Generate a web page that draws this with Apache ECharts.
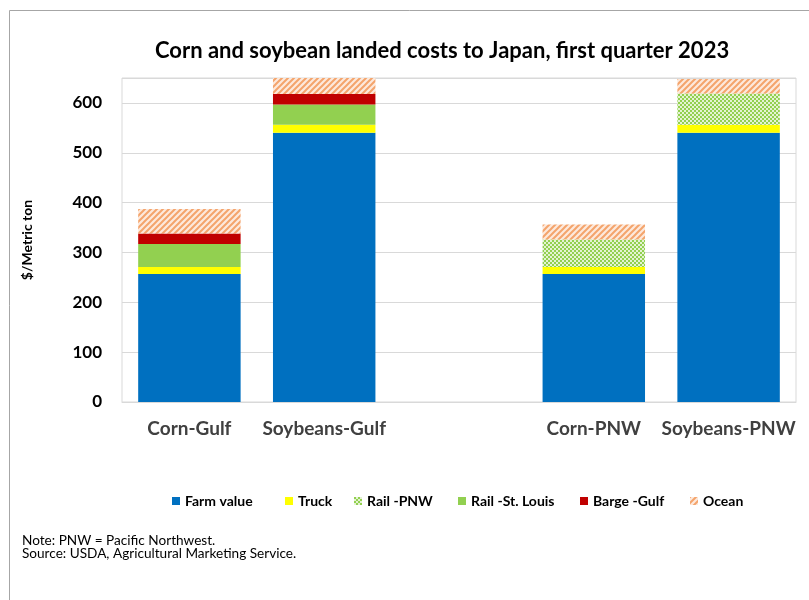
<!DOCTYPE html>
<html><head><meta charset="utf-8">
<script src="https://cdn.jsdelivr.net/npm/echarts@6/dist/echarts.min.js"></script>
<style>html,body{margin:0;padding:0;background:#fff}#c{width:809px;height:600px}</style>
</head><body><div id="c"></div>
<script>
const categories = ['Corn-Gulf', 'Soybeans-Gulf', '', 'Corn-PNW', 'Soybeans-PNW'];
const farmValue = [257, 540, '-', 257, 540];
const truck = [14, 16, '-', 14, 16];
const railPNW = [0, 0, '-', 55, 63];
const railStLouis = [46, 41, '-', 0, 0];
const bargeGulf = [21, 21, '-', 0, 0];
const ocean = [49, 32, '-', 30, 29];
const yTicks = [0, 100, 200, 300, 400, 500, 600];
const seriesNames = ['Farm value', 'Truck', 'Rail -PNW', 'Rail -St. Louis', 'Barge -Gulf', 'Ocean'];

function stripes() {
  const c = document.createElement('canvas'); c.width = 6; c.height = 6;
  const g = c.getContext('2d');
  g.fillStyle = '#fde9dc'; g.fillRect(0, 0, 6, 6);
  g.strokeStyle = '#f4a46c'; g.lineWidth = 2;
  g.beginPath();
  g.moveTo(-1, 7); g.lineTo(7, -1);
  g.moveTo(-4, 4); g.lineTo(4, -4);
  g.moveTo(2, 10); g.lineTo(10, 2);
  g.stroke();
  return c;
}
function checks() {
  const c = document.createElement('canvas'); c.width = 4; c.height = 4;
  const g = c.getContext('2d');
  g.fillStyle = '#e4f3d3'; g.fillRect(0, 0, 4, 4);
  g.fillStyle = '#92d050';
  g.fillRect(0, 0, 2, 2); g.fillRect(2, 2, 2, 2);
  return c;
}
const font = 'Lato, "Open Sans", sans-serif';
const chart = echarts.init(document.getElementById('c'));
function s(name, data, color) {
  return { name, type: 'bar', stack: 'a', data, barCategoryGap: '24%',
    itemStyle: { color }, emphasis: { disabled: true } };
}
const legendLefts = [172, 285, 354, 458, 580, 690];
const legends = seriesNames.map((n, i) => ({
  top: 494, left: legendLefts[i], padding: 0, itemWidth: 8, itemHeight: 8, itemGap: 4, icon: 'rect',
  textStyle: { fontSize: 14, fontWeight: 'bold', color: '#000', fontFamily: font },
  data: [n]
}));
chart.setOption({
  animation: false,
  textStyle: { fontFamily: font },
  title: { text: 'Corn and soybean landed costs to Japan, first quarter 2023', left: 150, top: 35,
    textStyle: { fontSize: 22, fontWeight: 'bold', color: '#000', fontFamily: font } },
  grid: { left: 122, right: 13, top: 78, bottom: 198, show: true, borderColor: '#d9d9d9', borderWidth: 1 },
  legend: legends,
  xAxis: { type: 'category', data: categories,
    axisLine: { lineStyle: { color: '#d9d9d9' } }, axisTick: { show: false },
    axisLabel: { interval: 0, fontSize: 19, fontWeight: 'bold', color: '#404040', margin: 17, fontFamily: font } },
  yAxis: { type: 'value', min: 0, max: 650, interval: 100, name: '$/Metric ton', nameLocation: 'middle', nameGap: 88,
    nameTextStyle: { fontSize: 14, fontWeight: 'bold', color: '#000', fontFamily: font },
    axisLabel: { fontSize: 17, fontWeight: 'bold', color: '#000', margin: 20, fontFamily: font,
      formatter: v => yTicks.includes(v) ? String(v) : '' },
    splitLine: { lineStyle: { color: '#d9d9d9' } } },
  series: [
    s(seriesNames[0], farmValue, '#0070c0'),
    s(seriesNames[1], truck, '#ffff00'),
    s(seriesNames[2], railPNW, { image: checks(), repeat: 'repeat' }),
    s(seriesNames[3], railStLouis, '#92d050'),
    s(seriesNames[4], bargeGulf, '#c00000'),
    s(seriesNames[5], ocean, { image: stripes(), repeat: 'repeat' })
  ],
  graphic: [
    { type: 'rect', shape: { x: 9.5, y: 10.5, width: 900, height: 700 }, style: { fill: 'none', stroke: '#a6a6a6', lineWidth: 1 }, silent: true },
    { type: 'text', left: 22, top: 534, style: { text: 'Note: PNW = Pacific Northwest.\nSource: USDA, Agricultural Marketing Service.', font: '13.6px ' + font, fill: '#000', lineHeight: 13 } }
  ]
});
</script></body></html>
